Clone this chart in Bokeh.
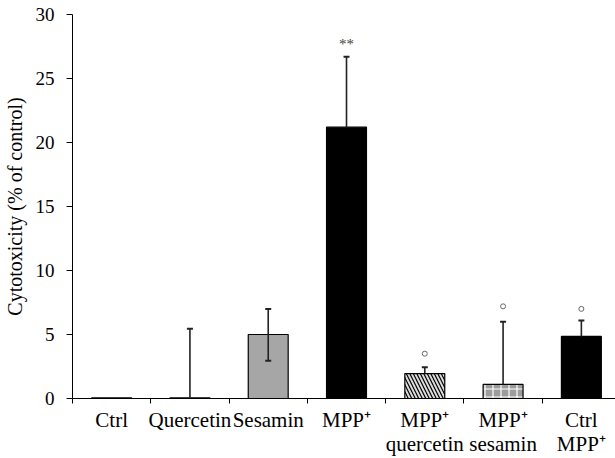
from bokeh.plotting import figure
from bokeh.models import ColumnDataSource, FixedTicker, Range1d
from bokeh.core.properties import value
from bokeh.embed import file_html
from bokeh.resources import INLINE

# ---- data ----
categories = ["Ctrl", "Quercetin", "Sesamin", "MPP+", "MPP+ quercetin", "MPP+ sesamin", "Ctrl MPP+"]
tick_labels = ["Ctrl", "Quercetin", "Sesamin", "MPP\u207a", "MPP\u207a\nquercetin", "MPP\u207a\nsesamin", "Ctrl\nMPP\u207a"]
values = [0.05, 0.05, 5.0, 21.2, 1.95, 1.1, 4.85]
err_high = [0.05, 5.45, 7.0, 26.7, 2.45, 6.0, 6.1]
err_low = [0.05, 0.05, 2.95, 21.2, 1.95, 1.1, 4.85]
sig_text = ["", "", "", "**", "", "", ""]
sig_circle = [None, None, None, None, 3.5, 7.2, 7.0]
y_ticks = [0, 5, 10, 15, 20, 25, 30]

# ---- styles ----
fills = ["white", "white", "#a6a6a6", "black", "#dcdcdc", "#9c9c9c", "black"]
hatches = [" ", " ", " ", " ", "\\", "+", " "]
hatch_colors = ["black", "black", "black", "black", "black", "white", "black"]
hatch_scales = [8, 8, 8, 8, 7, 8, 8]

xs = list(range(len(categories)))
src = ColumnDataSource(dict(x=xs, top=values, fill=fills, hatch=hatches,
                            hcol=hatch_colors, hscale=hatch_scales))

FONT = "Liberation Serif"

p = figure(width=615, height=458, output_backend="svg", toolbar_location=None,
           x_range=Range1d(-0.5, 6.436), y_range=Range1d(0, 30),
           min_border_left=60, min_border_right=0, min_border_top=14, min_border_bottom=59)
p.outline_line_color = None
p.border_fill_color = "white"
p.xgrid.visible = False
p.ygrid.visible = False
p.background_fill_color = "white"

p.vbar(x="x", top="top", bottom=0, width=0.51, source=src, fill_color="fill",
       line_color="black", line_width=1.2, hatch_pattern="hatch", hatch_color="hcol",
       hatch_scale="hscale", hatch_weight=1.2)

# error bars
stem_x, stem_y0, stem_y1 = [], [], []
cap_x, cap_y = [], []
for i in xs:
    if err_high[i] > values[i] + 0.01:
        stem_x.append(i); stem_y0.append(values[i]); stem_y1.append(err_high[i])
        cap_x.append(i); cap_y.append(err_high[i])
    if err_low[i] < values[i] - 0.01:
        stem_x.append(i); stem_y0.append(err_low[i]); stem_y1.append(values[i])
        cap_x.append(i); cap_y.append(err_low[i])
p.segment(x0=stem_x, y0=stem_y0, x1=stem_x, y1=stem_y1, line_color="#222222", line_width=1.6)
p.scatter(x=cap_x, y=cap_y, marker="dash", size=6, line_color="#222222", line_width=2)

# significance markers
cx = [i for i in xs if sig_circle[i] is not None]
cy = [sig_circle[i] for i in xs if sig_circle[i] is not None]
p.scatter(x=cx, y=cy, marker="circle", size=5, fill_color="white", line_color="#666666", line_width=1)
tx = [i for i in xs if sig_text[i]]
ty = [err_high[i] + 1.0 for i in xs if sig_text[i]]
tt = [sig_text[i] for i in xs if sig_text[i]]
p.text(x=tx, y=ty, text=tt, text_align="center", text_baseline="middle",
       text_font=value(FONT), text_font_size="15px", text_color="#444444")

# x axis
p.xaxis.ticker = FixedTicker(ticks=xs, minor_ticks=[i - 0.5 for i in range(len(xs) + 1)])
p.xaxis.major_label_overrides = {i: tick_labels[i] for i in xs}
p.xaxis.major_tick_out = 0
p.xaxis.major_tick_in = 0
p.xaxis.minor_tick_out = 5
p.xaxis.minor_tick_in = 0
p.xaxis.minor_tick_line_color = "black"
p.xaxis.major_label_standoff = 4
p.xaxis.major_label_text_font = FONT
p.xaxis.major_label_text_font_size = "21px"
p.xaxis.major_label_text_line_height = 1.0
p.xaxis.major_label_text_color = "black"
p.xaxis.axis_line_color = "black"

# y axis
p.yaxis.ticker = FixedTicker(ticks=y_ticks)
p.yaxis.minor_tick_line_color = None
p.yaxis.major_tick_out = 6
p.yaxis.major_tick_in = 0
p.yaxis.major_tick_line_color = "black"
p.yaxis.major_label_standoff = 12
p.yaxis.major_label_text_font = FONT
p.yaxis.major_label_text_font_size = "19px"
p.yaxis.major_label_text_color = "black"
p.yaxis.axis_label = "Cytotoxicity (% of control)"
p.yaxis.axis_label_text_font = FONT
p.yaxis.axis_label_text_font_size = "20px"
p.yaxis.axis_label_text_font_style = "normal"
p.yaxis.axis_label_text_color = "black"
p.yaxis.axis_label_standoff = 7
p.yaxis.axis_line_color = "black"

open("out.html", "w").write(file_html(p, INLINE))
